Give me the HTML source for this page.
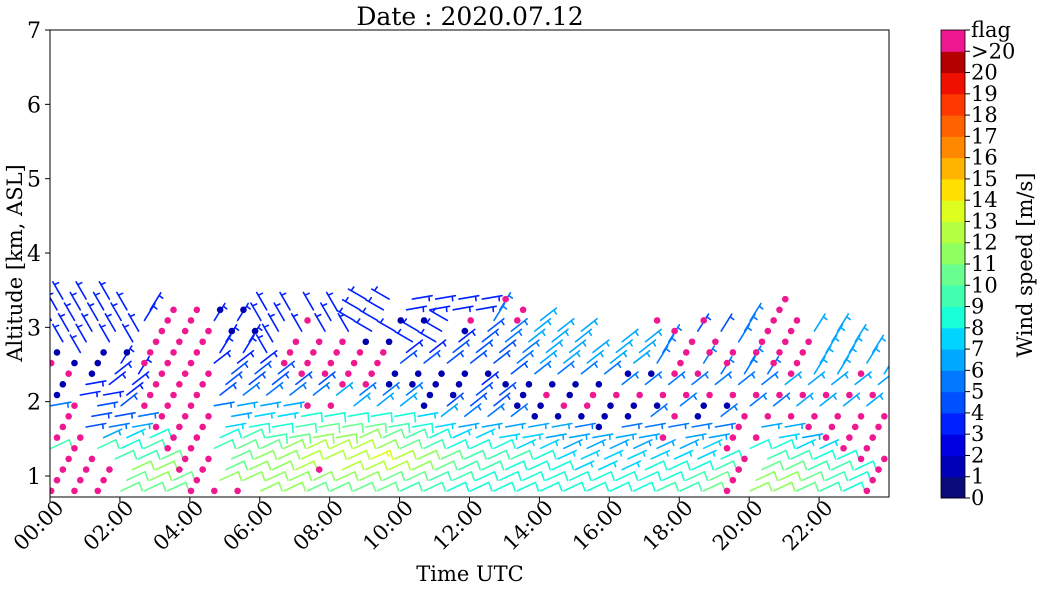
<!DOCTYPE html>
<html><head><meta charset="utf-8">
<style>
html,body{margin:0;padding:0;background:#fff;}
svg{display:block;font-family:"DejaVu Serif","Liberation Serif",serif;}
</style></head>
<body>
<svg id="chart" width="1044" height="590" viewBox="0 0 1044 590">
  <defs><clipPath id="plotclip"><rect x="50" y="30" width="839" height="467"/></clipPath></defs>
  <rect x="0" y="0" width="1044" height="590" fill="#fff"/>
  <text x="470" y="25" font-size="25" text-anchor="middle">Date : 2020.07.12</text>
  <g id="marks" clip-path="url(#plotclip)"></g>
  <rect x="50" y="30" width="839" height="467" fill="none" stroke="#000" stroke-width="1"/>
  <g id="yaxis"></g>
  <g id="xaxis"></g>
  <text x="470" y="581" font-size="21" text-anchor="middle">Time UTC</text>
  <text transform="translate(22,263) rotate(-90)" font-size="21" text-anchor="middle">Altitude [km, ASL]</text>
  <g id="cbar"></g>
  <text transform="translate(1032,265) rotate(-90)" font-size="21" text-anchor="middle">Wind speed [m/s]</text>
</svg>
<script>
// ---- data ----
const yTicks = [1,2,3,4,5,6,7];
const xTickHours = [0,2,4,6,8,10,12,14,16,18,20,22];
const xTickLabels = ["00:00","02:00","04:00","06:00","08:00","10:00","12:00","14:00","16:00","18:00","20:00","22:00"];
const cbarLabels = ["0","1","2","3","4","5","6","7","8","9","10","11","12","13","14","15","16","17","18","19","20",">20","flag"];
const bandColors = ["#0a0a78","#0000b8","#0000e0","#0020ff","#0050ff","#0078ff","#00a8ff","#00d4ff","#18ffd8","#40ffb0","#68ff90","#90ff60","#b4ff40","#dcff20","#ffe000","#ffb400","#ff8800","#ff6000","#ff3800","#f01000","#b40000","#f01890"];
const FLAG_IDX = 21;
const profileStepMin = 40;
const rowStepMin = 10;
const altBase = 0.8;
const altStep = 0.1433;
// speeds per lattice column, rows bottom->top ('.' none, 'f' flag, '0' calm, a=10 b=11 c=12 d=13)
const speedCols = [
"ffff9fff500ff033333","ffffff44f3300333333","fff9965443330033333","aab987654333303333.",
"abba98ffffffffff33.","aaffffffffffffffff.","ffffffffffffffffff.","fbaa98765444333030.",
"fbbba9876544333030.","bbbba9876544333333.","bbccba98654ffff333.","abfccba8f54ffff3f3.",
"abcccba8f6fffff333.","abcdcba865ffff03333","aaccba986500ff03333","9abba98765004333033",
"99aa987600004333033","8999876540004430333","8899876544304444f33","888987654404445555f",
"8888776000055566ff.","888776600f0566666..","88776650f0056666...","88776600ff0566.....",
"887766500f50666....","888766550f50666....","98876f5f0f5f555ff..","998766505f5ffff4...",
"aa9876550f555ff4f..","ffffffff0f55ff55...","bba98f6f5f555fff5..","bba9876f5f6ffffffff",
"aa9876ff6f66fff6f..","99987fff6f666666...","888fffff6f6f666....","ffffffff6f6666....."
];
// shaft direction codes per lattice column
const dirCols = [
"ccccceeeeeeuuuuuuuu","cccccceeeeeuuuuuuuu","cccccceeeerrruuuuuu","cccccceerrrnnuuuuuu",
"ccccccccccccccccnnn","ccccccccccccccccccc","ccccccccccccccccccc","cccccceeerrrrnnnnnn",
"cccccceeerrrrnnnnnn","ccccceeeerrrruuuuuu","ccccceeeerrrruuuuuu","ccccceeeerrrruuuuuu",
"ccccceeeerrrrruuuuu","cccccceerrrrrrwwwww","cccccceerrrrrrwwwww","cccccceerrrrrrwwwee",
"ccccccerrrrrrrwwwee","ccccccerrrrrrrrwwee","ccccccerrrrrrrrreee","ccccceerrrrrrrrrnnn",
"ccccceerrrrrrrrrrrr","ccccceerrrrrrrrrrrr","ccccceerrrrrrrrrrrr","ccccceerrrrrrrrrrrr",
"ccccceerrrrrrrrrrrr","ccccceerrrrrrrrrrrr","ccccceerrrrnnnnnnnn","ccccceerrrrnnnnnnnn",
"ccccceerrrrnnnnnnnn","ccccceerrrrnnnnnnnn","ccccceerrrrnnnnnnnn","ccccceerrrrnnnnnnnn",
"ccccceerrrrnnnnnnnn","ccccceerrrrnnnnnnnn","ccccceerrrrnnnnnnnn","ccccceerrrrnnnnnnnn"
];
const dirAngles = {c:25, e:10, r:38, n:58, u:120, w:150, s:-20};

// ---- scales ----
const NS = "http://www.w3.org/2000/svg";
const X0 = 50, X1 = 889, Y1km = 476, PXKM = 74.33;
function xScale(h){ return X0 + h * (X1 - X0) / 24; }
function yScale(km){ return Y1km - (km - 1) * PXKM; }
function mk(tag, attrs, parent){ const e = document.createElementNS(NS, tag); for (const k in attrs) e.setAttribute(k, attrs[k]); parent.appendChild(e); return e; }
function speedVal(ch){ if (ch >= '0' && ch <= '9') return +ch; return 10 + (ch.charCodeAt(0) - 97); }

// ---- axes ----
const ya = document.getElementById('yaxis');
yTicks.forEach(v => {
  const y = yScale(v);
  const t = mk('line', {x1:45, x2:50, y1:y, y2:y, stroke:'#000'}, ya);
  
  
  const l = mk('text', {x:41, y:y+8, 'font-size':22, 'text-anchor':'end'}, ya);
  l.textContent = v;
  
  
});
const xa = document.getElementById('xaxis');
xTickHours.forEach((h, i) => {
  const x = xScale(h);
  const t = mk('line', {x1:x, x2:x, y1:497, y2:502, stroke:'#000'}, xa);
  
  
  const l = mk('text', {x:x+15, y:509, 'font-size':21, 'text-anchor':'end', transform:'rotate(-45,'+(x+15)+',509)'}, xa);
  l.textContent = xTickLabels[i];
  
  
});

// ---- colorbar ----
const cb = document.getElementById('cbar');
const CBX = 941, CBW = 24, CBT = 30, CBB = 498;
const segH = (CBB - CBT) / (cbarLabels.length - 1);
for (let i = 0; i < cbarLabels.length - 1; i++) {
  const s = mk('rect', {x:CBX, y:CBB - (i+1)*segH, width:CBW, height:segH+0.5, fill:bandColors[i]}, cb);
  
  
}
mk('rect', {x:CBX, y:CBT, width:CBW, height:CBB-CBT, fill:'none', stroke:'#000', 'stroke-width':0.8}, cb);
cbarLabels.forEach((lab, i) => {
  const y = CBB - i*segH;
  mk('line', {x1:CBX+CBW, x2:CBX+CBW+5, y1:y, y2:y, stroke:'#000'}, cb);
  const l = mk('text', {x:971, y:y+7, 'font-size':21}, cb);
  l.textContent = lab;
  
  
});

// ---- barbs ----
const g = document.getElementById('marks');
const L = 20, FULL = 9, HALF = 4.5, SP = 3.2;
speedCols.forEach((col, j) => {
  for (let r = 0; r < col.length; r++) {
    const ch = col[r];
    if (ch === '.') continue;
    const tMin = j*profileStepMin + (r % 4)*rowStepMin + 2;
    const x = xScale(tMin/60);
    const y = yScale(altBase + r*altStep);
    if (ch === 'f' || ch === '0') {
      const c = mk('circle', {cx:x, cy:y, r:3.3, fill: ch === 'f' ? bandColors[FLAG_IDX] : '#0000b0'}, g);
      
      
      continue;
    }
    const s = speedVal(ch);
    const color = bandColors[Math.min(s, 20)];
    const a = dirAngles[dirCols[j][r]] * Math.PI/180;
    const ux = Math.cos(a), uy = -Math.sin(a);
    const b = a - 95*Math.PI/180;
    const bx = Math.cos(b), by = -Math.sin(b);
    const tx = x + L*ux, ty = y + L*uy;
    let d = 'M'+x.toFixed(1)+' '+y.toFixed(1)+'L'+tx.toFixed(1)+' '+ty.toFixed(1);
    const n5 = Math.round(s/5);
    const full = Math.floor(n5/2), half = n5 % 2;
    let pos = 0;
    for (let k = 0; k < full; k++) {
      const px = tx - pos*ux, py = ty - pos*uy;
      d += 'M'+px.toFixed(1)+' '+py.toFixed(1)+'l'+(FULL*bx).toFixed(1)+' '+(FULL*by).toFixed(1);
      pos += SP;
    }
    if (half) {
      if (full === 0) pos = SP;
      const px = tx - pos*ux, py = ty - pos*uy;
      d += 'M'+px.toFixed(1)+' '+py.toFixed(1)+'l'+(HALF*bx).toFixed(1)+' '+(HALF*by).toFixed(1);
    }
    const p = mk('path', {d:d, stroke:color, 'stroke-width':1.6, fill:'none', 'stroke-linecap':'round', 'stroke-linejoin':'round'}, g);
    
    
  }
});
</script>
</body></html>
